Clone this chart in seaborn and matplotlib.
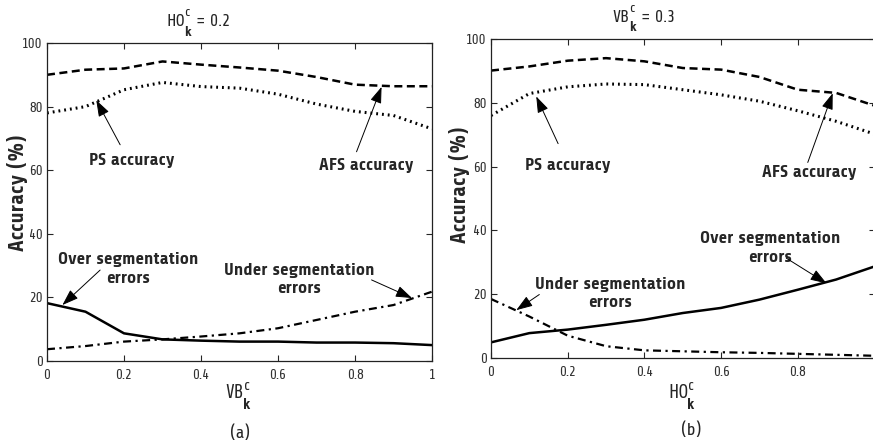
import matplotlib
matplotlib.use("Agg")
import matplotlib.pyplot as plt
from matplotlib import font_manager
from matplotlib.font_manager import FontProperties
from matplotlib.textpath import TextPath
from matplotlib.transforms import offset_copy
import seaborn as sns

sns.set_style("ticks")
plt.rcParams["font.family"] = ["Liberation Sans", "DejaVu Sans"]

# ---- data ----
vb = [0.0, 0.1, 0.2, 0.3, 0.4, 0.5, 0.6, 0.7, 0.8, 0.9, 1.0]
afs_a = [90.0, 91.6, 92.0, 94.2, 93.2, 92.3, 91.3, 89.3, 86.9, 86.4, 86.4]
ps_a = [78.0, 80.0, 85.3, 87.6, 86.3, 85.8, 83.9, 80.8, 78.5, 77.2, 73.0]
over_a = [18.2, 15.5, 8.7, 6.8, 6.4, 6.1, 6.1, 5.8, 5.8, 5.6, 5.0]
under_a = [3.7, 4.7, 6.1, 6.8, 7.7, 8.7, 10.3, 12.9, 15.5, 17.6, 21.8]

ho = [0.0, 0.1, 0.2, 0.3, 0.4, 0.5, 0.6, 0.7, 0.8, 0.9, 1.0]
afs_b = [90.1, 91.4, 93.2, 94.0, 93.0, 90.9, 90.4, 88.1, 84.1, 83.1, 79.1]
ps_b = [76.0, 82.9, 85.0, 85.9, 85.7, 84.1, 82.5, 80.5, 77.5, 74.2, 70.2]
over_b = [4.9, 7.8, 8.9, 10.4, 12.0, 14.1, 15.7, 18.3, 21.4, 24.6, 28.7]
under_b = [18.5, 13.0, 7.0, 3.7, 2.4, 2.1, 1.8, 1.6, 1.3, 1.0, 0.7]

xticks = [0, 0.2, 0.4, 0.6, 0.8, 1]
xtick_labels_a = ["0", "0.2", "0.4", "0.6", "0.8", "1"]
xtick_labels_b = ["0", "0.2", "0.4", "0.6", "0.8", ""]  # "1" falls off the image
yticks = [0, 20, 40, 60, 80, 100]
ytick_labels = ["0", "20", "40", "60", "80", "100"]


# ---- fonts: the MATLAB export uses an Arial Narrow like face ----
def wval(w):
    if isinstance(w, str):
        return font_manager.weight_dict.get(w, 400)
    return w


def width10(text, fp):
    return TextPath((0, 0), text, size=10, prop=fp).get_extents().width


def cap10(fp):
    return TextPath((0, 0), "H", size=10, prop=fp).get_extents().height


groups = {}
for f in font_manager.fontManager.ttflist:
    if f.style != "normal" or "Mono" in f.name or "CJK" in f.name or "Serif" in f.name:
        continue
    g = groups.setdefault((f.name, str(f.stretch)), {})
    w = wval(f.weight)
    if w == 400:
        g["reg"] = f.fname
    elif w == 700:
        g["bold"] = f.fname

# "PS accuracy" is 88 px wide and 13 px high (caps) in the picture
TARGET = 88 / 13
best = None
for key, g in groups.items():
    if "reg" not in g or "bold" not in g:
        continue
    try:
        fb = FontProperties(fname=g["bold"])
        r = width10("PS accuracy", fb) / cap10(fb)
    except Exception:
        continue
    if best is None or abs(r - TARGET) < best[0]:
        best = (abs(r - TARGET), g)

if best is not None:
    FP_REG = FontProperties(fname=best[1]["reg"])
    FP_BOLD = FontProperties(fname=best[1]["bold"])
else:
    FP_REG = FontProperties(family="Liberation Sans")
    FP_BOLD = FontProperties(family="Liberation Sans", weight="bold")


def fit(text, px, fp):
    # font size (pt) that gives the text its width in the picture
    return 10 * px / (width10(text, fp) * 100 / 72)


def fit_cap(px, fp):
    # font size (pt) that gives capitals their height in the picture
    return 10 * px / (cap10(fp) * 100 / 72)


note_fs = (fit("Over segmentation", 133, FP_BOLD) + fit_cap(13, FP_BOLD)) / 2
ylab_fs = fit("Accuracy (%)", 115, FP_BOLD)
tick_fs = (fit("100", 19, FP_REG) + fit_cap(9.7, FP_REG)) / 2
cap_fs = fit_cap(12.5, FP_REG)

W, H = 873, 447
fig = plt.figure(figsize=(W / 100, H / 100), dpi=100)
ax1 = fig.add_axes([47 / W, 1 - 361 / H, (432 - 47) / W, (361 - 43) / H])
ax2 = fig.add_axes([491 / W, 1 - 358 / H, (874.5 - 491) / W, (358 - 39) / H])


def draw(ax, x, afs, ps, over, under, labels):
    sns.lineplot(x=x, y=afs, ax=ax, color="k", lw=1.8, linestyle=(0, (3.2, 1.8)))
    sns.lineplot(x=x, y=ps, ax=ax, color="k", lw=2.2, linestyle=(0, (0.6, 1.3)))
    sns.lineplot(x=x, y=over, ax=ax, color="k", lw=1.8, linestyle="-")
    sns.lineplot(x=x, y=under, ax=ax, color="k", lw=1.6, linestyle=(0, (3.6, 2.0, 1.0, 2.0)))
    ax.set_xlim(0, 1)
    ax.set_ylim(0, 100)
    ax.set_yticks(yticks)
    ax.set_yticklabels(ytick_labels, fontproperties=FP_REG, fontsize=tick_fs, color="#333333")
    ax.set_xticks(xticks)
    ax.set_xticklabels(labels, fontproperties=FP_REG, fontsize=tick_fs, color="#333333")
    ax.tick_params(direction="in", length=4, width=0.8, top=True, right=True)
    ax.tick_params(axis="y", pad=3)
    ax.tick_params(axis="x", pad=6)
    for s in ax.spines.values():
        s.set_linewidth(0.9)
        s.set_color("#222222")
    ax.set_xlabel("")
    ax.set_ylabel("")


def note(ax, text, xy, xytext, arrow_from):
    ax.text(xytext[0], xytext[1], text, ha="center", va="center",
            fontproperties=FP_BOLD, fontsize=note_fs, linespacing=1.3)
    ax.annotate("", xy=xy, xytext=arrow_from,
                arrowprops=dict(arrowstyle="-|>,head_length=1.0,head_width=0.35",
                                color="k", lw=0.7, shrinkA=0, shrinkB=0))


def scripted(left, base_y, base, cap_px, tail="", up=0.75, down=0.8):
    # letters with superscript c and subscript k (VB^c_k), placed by pixels
    size = fit_cap(cap_px, FP_REG)
    small = size * 0.8
    cap_pt = cap_px * 0.72
    x, y = left / W, 1 - base_y / H
    tr = fig.transFigure
    fig.text(x, y, base, ha="left", va="baseline", fontproperties=FP_REG, fontsize=size)
    wb = width10(base, FP_REG) * size / 10 + 1.0
    fig.text(x, y, "c", ha="left", va="baseline", fontproperties=FP_REG, fontsize=small,
             transform=offset_copy(tr, fig=fig, x=wb + 0.6, y=up * cap_pt, units="points"))
    fig.text(x, y, "k", ha="left", va="baseline", fontproperties=FP_BOLD, fontsize=small,
             transform=offset_copy(tr, fig=fig, x=wb, y=-down * cap_pt, units="points"))
    if tail:
        wk = max(width10("c", FP_REG), width10("k", FP_BOLD)) * small / 10
        fig.text(x, y, tail, ha="left", va="baseline", fontproperties=FP_REG, fontsize=size,
                 transform=offset_copy(tr, fig=fig, x=wb + wk + 0.4 * size, y=0, units="points"))


draw(ax1, vb, afs_a, ps_a, over_a, under_a, xtick_labels_a)
draw(ax2, ho, afs_b, ps_b, over_b, under_b, xtick_labels_b)

# panel (a) annotations
note(ax1, "PS accuracy", (0.128, 82.0), (0.22, 63.0), (0.19, 68.0))
note(ax1, "AFS accuracy", (0.869, 86.2), (0.83, 61.5), (0.804, 65.8))
note(ax1, "Over segmentation\nerrors", (0.040, 17.6), (0.21, 29.0), (0.138, 28.6))
note(ax1, "Under segmentation\nerrors", (0.948, 19.8), (0.655, 25.6), (0.843, 25.5))

# panel (b) annotations
note(ax2, "PS accuracy", (0.118, 82.0), (0.20, 60.3), (0.175, 67.2))
note(ax2, "AFS accuracy", (0.891, 83.0), (0.83, 58.0), (0.826, 61.3))
note(ax2, "Over segmentation\nerrors", (0.875, 23.4), (0.727, 34.5), (0.77, 31.3))
note(ax2, "Under segmentation\nerrors", (0.066, 15.0), (0.31, 20.2), (0.126, 19.9))

# titles, axis labels and panel captions
scripted(166, 26, "HO", 12, "= 0.2", up=0.8, down=0.8)
scripted(612, 21.5, "VB", 12, "= 0.3", up=0.8, down=0.8)
scripted(225, 398, "VB", 13, up=0.6, down=0.85)
scripted(668, 398, "HO", 13, up=0.6, down=0.85)
fig.text(18 / W, 1 - 193 / H, "Accuracy (%)", rotation=90, ha="center", va="center",
         fontproperties=FP_BOLD, fontsize=ylab_fs)
fig.text(459 / W, 1 - 185 / H, "Accuracy (%)", rotation=90, ha="center", va="center",
         fontproperties=FP_BOLD, fontsize=ylab_fs)
fig.text(240 / W, 1 - 433 / H, "(a)", ha="center", va="center", fontproperties=FP_REG, fontsize=cap_fs)
fig.text(691 / W, 1 - 430 / H, "(b)", ha="center", va="center", fontproperties=FP_REG, fontsize=cap_fs)

fig.savefig("out.png", dpi=100)
